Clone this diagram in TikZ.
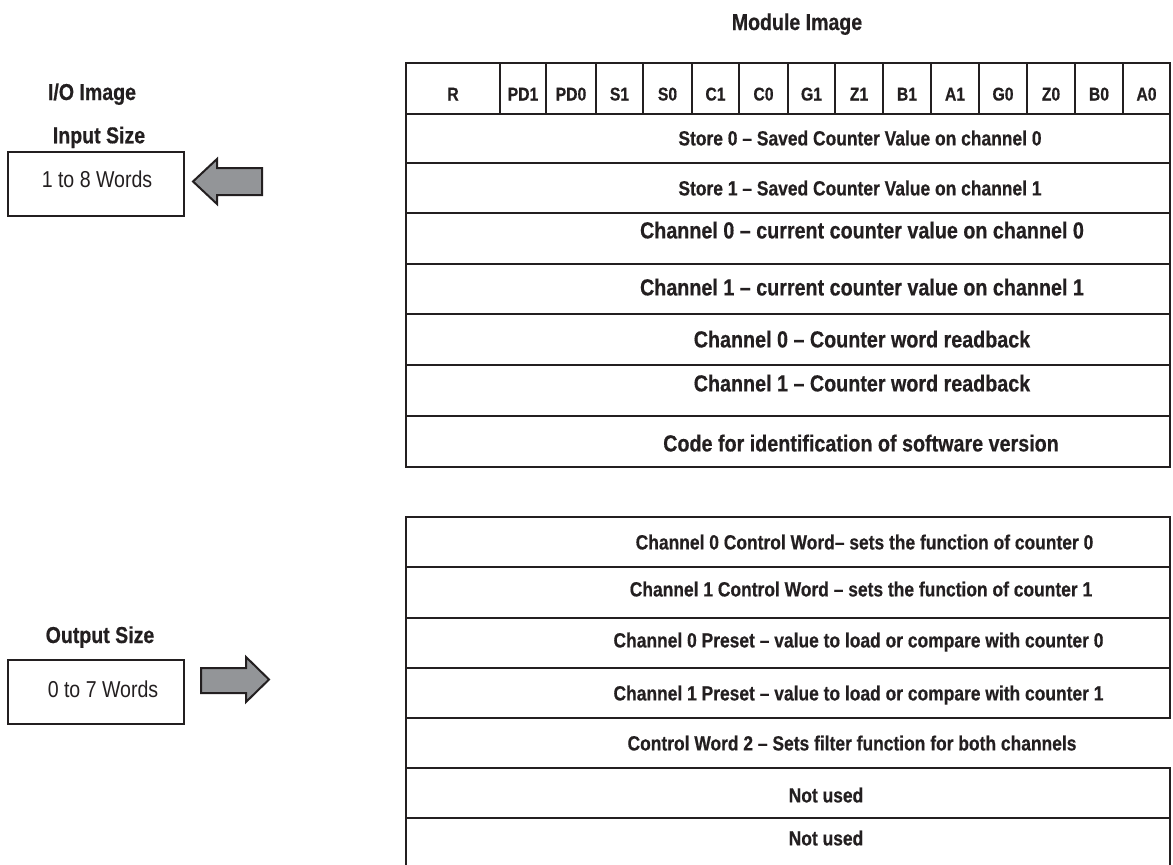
\documentclass[tikz,border=0pt]{standalone}
\usepackage{fontspec}
\setmainfont{Liberation Sans}[FakeStretch=0.85, BoldFeatures={FakeBold=0.5}]
\definecolor{ink}{HTML}{231F20}
\definecolor{arrowgray}{HTML}{939598}
\tikzset{
  frame/.style={draw=ink, line width=2pt, inner sep=0pt, outer sep=0pt},
  openframe/.style={inner sep=0pt, outer sep=0pt},
  hdr/.style={font=\fontsize{18.5}{20}\selectfont\bfseries, text=ink, inner sep=0pt, anchor=base},
  small/.style={font=\fontsize{20.5}{22}\selectfont\bfseries, text=ink, inner sep=0pt, anchor=base},
  large/.style={font=\fontsize{23.2}{25}\selectfont\bfseries, text=ink, inner sep=0pt, anchor=base},
  lbl/.style={font=\fontsize{23}{25}\selectfont\bfseries, text=ink, inner sep=0pt, anchor=base},
  plain/.style={font=\fontsize{23}{25}\selectfont, text=ink, inner sep=0pt, anchor=base},
  blockarrow/.style={draw=ink, fill=arrowgray, line width=2pt, line join=miter},
}
\begin{document}
\begin{tikzpicture}[x=1pt,y=-1pt]
\useasboundingbox (0,0) rectangle (1173,865);
\fill[white] (0,0) rectangle (1173,865);

% titles
\node[lbl] (modtitle) at (797,30) {Module Image};
\node[lbl] (iotitle) at (92,100) {I/O Image};
\node[lbl] (insize) at (99,143.3) {Input Size};
\node[lbl] (outsize) at (100,643) {Output Size};

% left boxes
\node[frame, minimum width=176pt, minimum height=64pt] (inbox) at (96,184) {};
\node[plain] (intext) at (97,187) {1 to 8 Words};
\node[frame, minimum width=176pt, minimum height=64pt] (outbox) at (96,692) {};
\node[plain] (outtext) at (103,697) {0 to 7 Words};

% block arrows
\draw[blockarrow] (262,168) -- (217,168) -- (217,159) -- (193,181.5) -- (217,204) -- (217,195) -- (262,195) -- cycle;
\draw[blockarrow] (201,668) -- (246,668) -- (246,657) -- (269,679.5) -- (246,702) -- (246,693) -- (201,693) -- cycle;

% header row of the module image
\foreach \l/\r/\t [count=\i] in {406/500/R, 500/546/PD1, 546/596/PD0, 596/643/S1, 643/692/S0,
  692/739/C1, 739/788/C0, 788/835/G1, 835/883/Z1, 883/931/B1, 931/979/A1,
  979/1027/G0, 1027/1075/Z0, 1075/1123/B0, 1123/1170/A0} {
  \node[frame, minimum width={(\r-\l)*1pt}, minimum height=51pt] (h\i) at ({(\l+\r)/2},88.5) {};
  \node[hdr] (h\i-t) at ({(\l+\r)/2},100.5) {\t};
}

% input words
\foreach \t/\b/\n/\s/\x/\y/\txt in {
  114/163/st0/small/860/145.4/Store 0 – Saved Counter Value on channel 0,
  163/213/st1/small/860/195.4/Store 1 – Saved Counter Value on channel 1,
  213/264/cv0/large/862/238.4/Channel 0 – current counter value on channel 0,
  264/314/cv1/large/862/295.4/Channel 1 – current counter value on channel 1,
  314/365/rb0/large/862/347.4/Channel 0 – Counter word readback,
  365/416/rb1/large/862/391.4/Channel 1 – Counter word readback,
  416/467/code/large/861/451.4/Code for identification of software version} {
  \node[frame, minimum width=764pt, minimum height={(\b-\t)*1pt}] (\n) at (788,{(\t+\b)/2}) {};
  \node[\s] (\n-t) at (\x,\y) {\txt};
}

% output words
\foreach \t/\b/\n/\f/\x/\y/\txt in {
  517/567/cw0/frame/864.5/549.4/Channel 0 Control Word– sets the function of counter 0,
  567/618/cw1/frame/861/596.4/Channel 1 Control Word – sets the function of counter 1,
  618/668/pr0/frame/858.5/647.4/Channel 0 Preset – value to load or compare with counter 0,
  668/718/pr1/frame/858.5/700.4/Channel 1 Preset – value to load or compare with counter 1,
  718/768/cwtwo/openframe/852/750.4/Control Word 2 – Sets filter function for both channels,
  768/818/nu1/frame/826/802.4/Not used,
  818/868/nu2/frame/826/845.4/Not used} {
  \node[\f, minimum width=764pt, minimum height={(\b-\t)*1pt}] (\n) at (788,{(\t+\b)/2}) {};
  \node[small] (\n-t) at (\x,\y) {\txt};
}
\draw[ink, line width=1.3pt] (cwtwo.north west) -- (cwtwo.south west);
\end{tikzpicture}
\end{document}
